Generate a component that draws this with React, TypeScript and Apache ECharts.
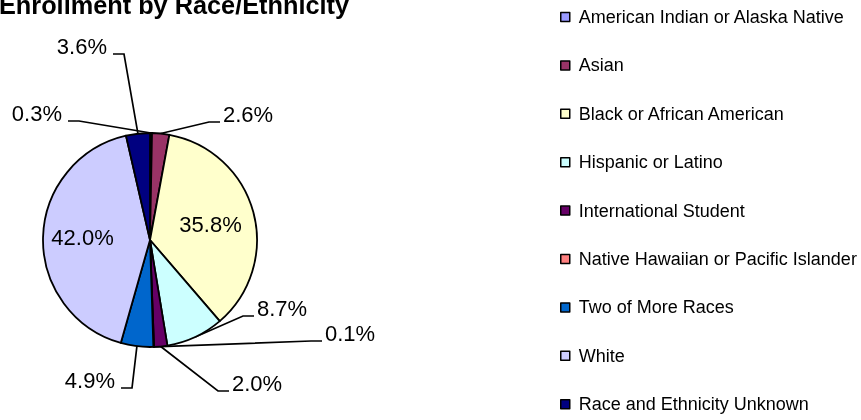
import React, { useEffect, useRef } from "react";
import * as echarts from "echarts";

const categories = [
  "American Indian or Alaska Native",
  "Asian",
  "Black or African American",
  "Hispanic or Latino",
  "International Student",
  "Native Hawaiian or Pacific Islander",
  "Two of More Races",
  "White",
  "Race and Ethnicity Unknown",
];
const shares = [0.3, 2.6, 35.8, 8.7, 2.0, 0.1, 4.9, 42.0, 3.6];
const sliceColors = [
  "#9999FF",
  "#993366",
  "#FFFFCC",
  "#CCFFFF",
  "#660066",
  "#FF8080",
  "#0066CC",
  "#CCCCFF",
  "#000080",
];
const chartTitle = "Enrollment by Race/Ethnicity";

// label placement (layout only): side of the text, text edge x, text middle y
const labelSpots: any[] = [
  { side: "left", x: 62, y: 113 },
  { side: "right", x: 223, y: 114 },
  { side: "inside", dx: 6, dy: -1 },
  { side: "right", x: 257, y: 308 },
  { side: "right", x: 232, y: 383 },
  { side: "right", x: 325, y: 333 },
  { side: "left", x: 115, y: 380 },
  { side: "inside", dx: -11, dy: -1 },
  { side: "left", x: 107, y: 46 },
];

export default function App() {
  const ref = useRef<HTMLDivElement>(null);
  useEffect(() => {
    if (!ref.current) return;
    const chart = echarts.init(ref.current, null, { renderer: "svg" });
    const data = categories.map((name, i) => {
      const inside = labelSpots[i].side === "inside";
      return {
        name,
        value: shares[i],
        itemStyle: { color: sliceColors[i] },
        label: { position: inside ? "inside" : "outside" },
        labelLine: { show: !inside },
      };
    });
    chart.setOption({
      animation: false,
      textStyle: { fontFamily: "Arial" },
      graphic: [
        {
          type: "text",
          x: -1,
          y: 4.5,
          style: {
            text: chartTitle,
            fontSize: 25.3,
            fontWeight: "bold",
            fontFamily: "Arial",
            fill: "#000",
            align: "left",
            verticalAlign: "middle",
          },
        },
      ],
      legend: {
        orient: "vertical",
        left: 560,
        top: 7,
        padding: 0,
        itemWidth: 9,
        itemHeight: 9,
        itemGap: 28.4,
        icon: "rect",
        selectedMode: false,
        itemStyle: { borderColor: "#000", borderWidth: 1.5 },
        textStyle: {
          fontFamily: "Arial",
          fontSize: 18,
          color: "#000",
          lineHeight: 20,
          padding: [0, 0, 0, 4],
        },
        data: categories,
      },
      series: [
        {
          type: "pie",
          center: [150, 240],
          radius: 107,
          startAngle: 90,
          clockwise: true,
          silent: true,
          avoidLabelOverlap: false,
          itemStyle: { borderColor: "#000", borderWidth: 1.8 },
          emphasis: { disabled: true },
          label: {
            show: true,
            fontFamily: "Arial",
            fontSize: 22,
            color: "#000",
            formatter: (p: any) => Number(p.value).toFixed(1) + "%",
          },
          labelLine: {
            show: true,
            length: 10,
            length2: 10,
            lineStyle: { color: "#000", width: 1.7 },
          },
          labelLayout: (p: any) => {
            const s = labelSpots[p.dataIndex];
            if (!s) return {};
            if (s.side === "inside") return { dx: s.dx, dy: s.dy };
            const ly = s.y + 8;
            const endX = s.side === "left" ? s.x + 6 : s.x - 3;
            const turnX = s.side === "left" ? endX + 11 : endX - 11;
            const res: any = {
              x: s.x,
              y: s.y,
              align: s.side === "left" ? "right" : "left",
              verticalAlign: "middle",
            };
            const pts = p.labelLinePoints;
            if (pts && pts[0]) {
              res.labelLinePoints = [
                [pts[0][0], pts[0][1]],
                [turnX, ly],
                [endX, ly],
              ];
            }
            return res;
          },
          data,
        },
      ],
    });
    return () => chart.dispose();
  }, []);
  return (
    <div
      ref={ref}
      style={{ position: "fixed", left: 0, top: 0, width: 861, height: 420 }}
    />
  );
}
